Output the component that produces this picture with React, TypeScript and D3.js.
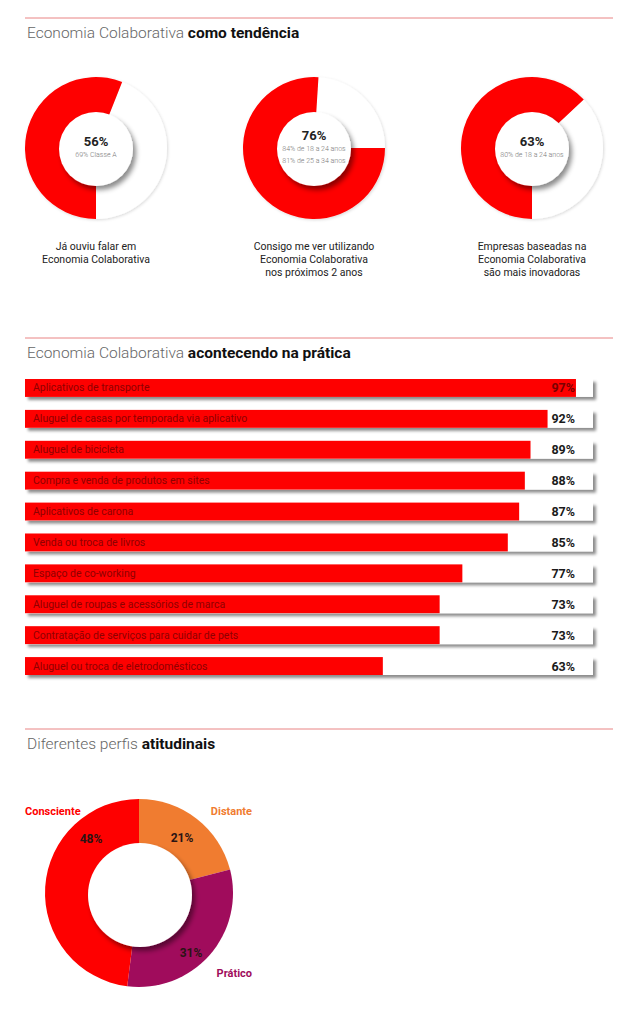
import * as d3 from 'd3';

// --- data ---
const trendValues = [56, 76, 63];
const trendSubs = [
    ['69% Classe A'],
    ['84% de 18 a 24 anos', '81% de 25 a 34 anos'],
    ['80% de 18 a 24 anos'],
];
const trendCaptions = [
    ['Já ouviu falar em', 'Economia Colaborativa'],
    ['Consigo me ver utilizando', 'Economia Colaborativa', 'nos próximos 2 anos'],
    ['Empresas baseadas na', 'Economia Colaborativa', 'são mais inovadoras'],
];

const practiceCategories = [
    'Aplicativos de transporte',
    'Aluguel de casas por temporada via aplicativo',
    'Aluguel de bicicleta',
    'Compra e venda de produtos em sites',
    'Aplicativos de carona',
    'Venda ou troca de livros',
    'Espaço de co-working',
    'Aluguel de roupas e acessórios de marca',
    'Contratação de serviços para cuidar de pets',
    'Aluguel ou troca de eletrodomésticos',
];
const practiceValues = [97, 92, 89, 88, 87, 85, 77, 73, 73, 63];

const profileNames = ['Distante', 'Prático', 'Consciente'];
const profileValues = [21, 31, 48];

// --- layout / style ---
const RED = '#fe0000';
const profileColors = ['#f07c30', '#a00c5c', RED];
const trendCenters = [96, 314, 532];
const trendStart = [180, 90, 180]; // degrees, clockwise from 12 o'clock
const FONT = 'Roboto, "Noto Sans", sans-serif';

const SectionTitle = ({ y, light, bold }: { y: number; light: string; bold: string }) => (
    <g>
        <line x1={25} x2={613} y1={y} y2={y} stroke="#e98484" strokeWidth={1} />
        <text x={27} y={y + 20} fontSize={15.5} fontFamily={FONT}>
            <tspan fill="#666" fontWeight={300}>{light} </tspan>
            <tspan fill="#111" fontWeight={700}>{bold}</tspan>
        </text>
    </g>
);

const App = () => {
    const trendCy = 148;
    const trendArc = d3.arc<any>().innerRadius(0).outerRadius(71);

    const x = d3.scaleLinear().domain([0, 100]).range([25, 593]);
    const y = d3
        .scaleBand()
        .domain(practiceCategories)
        .range([379, 675])
        .paddingInner(0.42)
        .paddingOuter(0);

    const pcx = 139;
    const pcy = 893;
    const pie = d3
        .pie<number>()
        .sort(null)
        .value(d => d)(profileValues);
    const profileArc = d3.arc<any>().innerRadius(0).outerRadius(94);
    const nameLabels = [
        { x: 252, y: 815, anchor: 'end' },
        { x: 252, y: 977, anchor: 'end' },
        { x: 25, y: 815, anchor: 'start' },
    ];
    const pctLabels = [
        { x: 182, y: 842 },
        { x: 191, y: 957 },
        { x: 91, y: 843 },
    ];

    return (
        <svg
            width={634}
            height={1024}
            style={{ position: 'absolute', left: 0, top: 0, background: '#fff' }}
            fontFamily={FONT}
        >
            <defs>
                <filter id="sh" x="-20%" y="-20%" width="150%" height="150%">
                    <feDropShadow dx={3} dy={4} stdDeviation={2.5} floodColor="#000" floodOpacity={0.45} />
                </filter>
                <filter id="shLight" x="-10%" y="-10%" width="130%" height="130%">
                    <feDropShadow dx={1} dy={1} stdDeviation={1.5} floodColor="#000" floodOpacity={0.15} />
                </filter>
                <filter id="barSh" x="-5%" y="-30%" width="110%" height="190%">
                    <feDropShadow dx={3} dy={3} stdDeviation={1.5} floodColor="#000" floodOpacity={0.45} />
                </filter>
            </defs>

            <SectionTitle y={18} light="Economia Colaborativa" bold="como tendência" />
            {trendValues.map((v, i) => {
                const cx = trendCenters[i];
                const s = (trendStart[i] * Math.PI) / 180;
                const e = s + (v / 100) * 2 * Math.PI;
                const subs = trendSubs[i];
                const mainY = trendCy - 2 - (subs.length - 1) * 6.5;
                return (
                    <g key={i}>
                        <g transform={`translate(${cx},${trendCy})`} filter="url(#shLight)">
                            <path d={trendArc({ startAngle: e, endAngle: s + 2 * Math.PI }) ?? ''} fill="#fff" />
                            <path d={trendArc({ startAngle: s, endAngle: e }) ?? ''} fill={RED} />
                        </g>
                        <circle cx={cx} cy={trendCy + 1} r={37} fill="#fff" filter="url(#sh)" />
                        <text x={cx} y={mainY} textAnchor="middle" fontSize={13} fontWeight={700} fill="#222">
                            {v}%
                        </text>
                        {subs.map((t, j) => (
                            <text key={j} x={cx} y={mainY + 11 + j * 12} textAnchor="middle" fontSize={7} fontWeight={300} fill="#777">
                                {t}
                            </text>
                        ))}
                        {trendCaptions[i].map((t, j) => (
                            <text key={j} x={cx} y={250 + j * 13} textAnchor="middle" fontSize={10.5} fill="#222">
                                {t}
                            </text>
                        ))}
                    </g>
                );
            })}

            <SectionTitle y={338} light="Economia Colaborativa" bold="acontecendo na prática" />
            {practiceCategories.map((c, i) => {
                const by = y(c) ?? 0;
                const bh = y.bandwidth();
                const v = practiceValues[i];
                const valueX = 575;
                const onRed = x(v) > valueX - 5;
                return (
                    <g key={c}>
                        <rect x={x(0)} y={by} width={x(100) - x(0)} height={bh} fill="#fff" filter="url(#barSh)" />
                        <rect x={x(0)} y={by} width={x(v) - x(0)} height={bh} fill={RED} />
                        <text x={33} y={by + bh / 2 + 3.5} fontSize={10.5} fill="#8e0000">
                            {c}
                        </text>
                        <text
                            x={valueX}
                            y={by + bh / 2 + 4.5}
                            textAnchor="end"
                            fontSize={12.5}
                            fontWeight={700}
                            fill={onRed ? '#7a0000' : '#1a1a1a'}
                        >
                            {v}%
                        </text>
                    </g>
                );
            })}

            <SectionTitle y={729} light="Diferentes perfis" bold="atitudinais" />
            <g transform={`translate(${pcx},${pcy})`}>
                {pie.map((p, i) => (
                    <path key={i} d={profileArc(p) ?? ''} fill={profileColors[i]} />
                ))}
            </g>
            <circle cx={pcx + 1} cy={pcy + 2} r={52} fill="#fff" filter="url(#sh)" />
            {profileNames.map((n, i) => (
                <g key={n}>
                    <text
                        x={nameLabels[i].x}
                        y={nameLabels[i].y}
                        textAnchor={nameLabels[i].anchor}
                        fontSize={11}
                        fontWeight={700}
                        fill={profileColors[i]}
                    >
                        {n}
                    </text>
                    <text x={pctLabels[i].x} y={pctLabels[i].y} textAnchor="middle" fontSize={12} fontWeight={700} fill="#2a1414">
                        {profileValues[i]}%
                    </text>
                </g>
            ))}
        </svg>
    );
};

export default App;
